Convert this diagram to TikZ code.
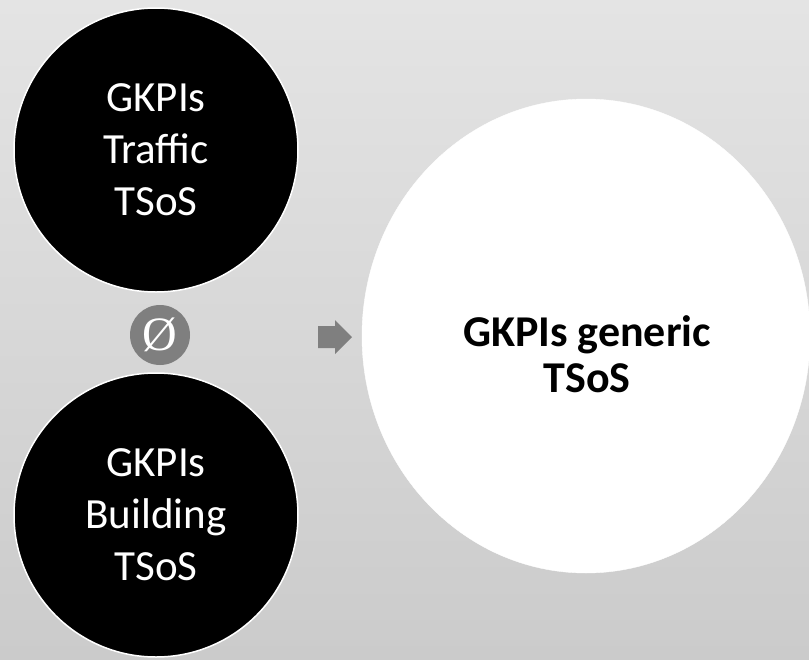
\documentclass[tikz,border=0pt]{standalone}
\usepackage{fontspec}
\setmainfont{Carlito}
\newfontfamily\symbfont{Liberation Serif}
\usepackage{tikz}
\usetikzlibrary{shapes.geometric}
\definecolor{bgtop}{RGB}{228, 228, 228}
\definecolor{bgbottom}{RGB}{203, 203, 203}
\definecolor{markgray}{RGB}{127, 127, 127}

\tikzset{
    sourcecircle/.style={circle, fill=black, draw=white, line width=1.5pt, minimum size=284pt,
        text=white, align=center, font=\fontsize{43}{52}\selectfont},
    targetcircle/.style={ellipse, fill=white, draw=white, minimum width=448pt, minimum height=474pt},
    targettext/.style={text=black, align=center, font=\fontsize{44}{46}\selectfont\bfseries},
}

\begin{document}
\begin{tikzpicture}[x=1pt, y=-1pt]
    % background
    \shade[top color=bgtop, bottom color=bgbottom] (0,0) rectangle (809,659);
    \useasboundingbox (0,0) rectangle (809,659);

    % the two source sets
    \node[sourcecircle] (traffic) at (156,150) {GKPIs\\Traffic\\TSoS};
    \node[sourcecircle] (building) at (156,515) {GKPIs\\Building\\TSoS};

    % empty set mark between them
    \node[circle, fill=markgray, minimum size=60pt, inner sep=0pt, text=white,
        font=\symbfont\fontsize{48}{48}\selectfont] (emptyset) at (160,335) {Ø};

    % arrow to the result
    \fill[markgray] (318,326) -- (335,326) -- (335,320) -- (352,337)
        -- (335,354) -- (335,348) -- (318,348) -- cycle;

    % the result
    \node[targetcircle] (generic) at (586,336) {};
    \node[targettext] (generictext) at (587,354) {GKPIs generic\\TSoS};
\end{tikzpicture}
\end{document}
